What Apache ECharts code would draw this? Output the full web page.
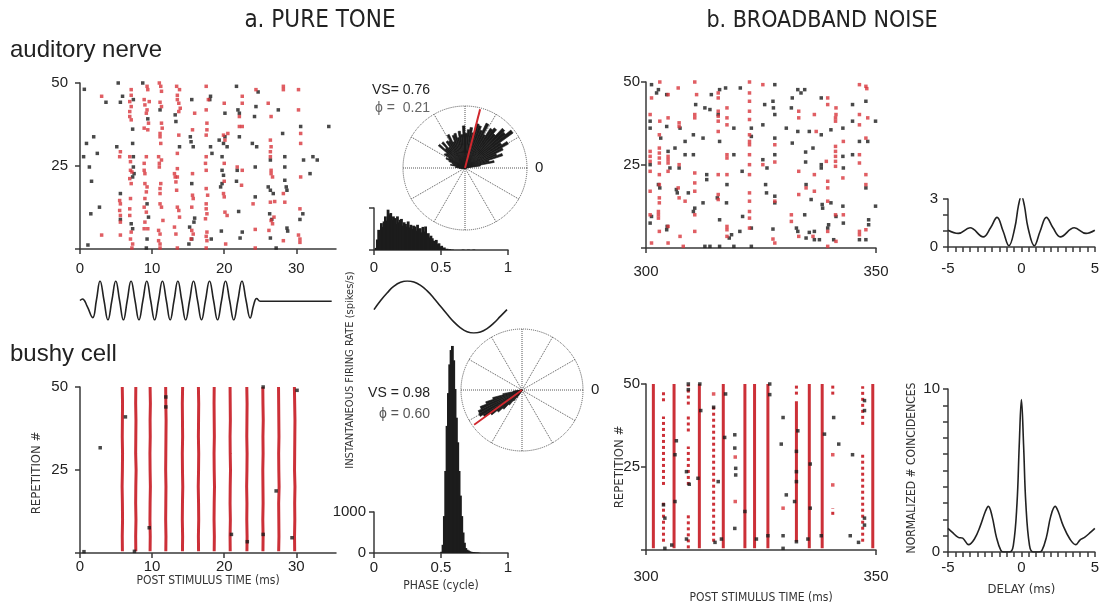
<!DOCTYPE html>
<html><head><meta charset="utf-8">
<script src="https://cdn.jsdelivr.net/npm/echarts@6/dist/echarts.min.js"></script>
<style>html,body{margin:0;padding:0;background:#fff}#c{width:1102px;height:610px}</style>
</head><body><div id="c"></div>
<script>
// ---------------- DATA ----------------
// a. pure tone, auditory nerve raster: [time ms, repetition]
const anToneBlack = [[0.6,48.1],[5.3,50],[8.7,50],[5.9,46],[3.6,44.2],[5.6,44.2],[7.4,45],[21.7,49],[24.7,47.3],[15.5,45],[18.1,46],[18.0,45],[27.5,41.9],[24.4,42.9],[21.9,41.9],[22.1,40.9],[11.1,41.9],[20.1,40.9],[13.2,40.4],[13.3,38.4],[9.4,39.2],[24.2,39.9],[30.6,36.9],[34.5,36.9],[7.3,36.1],[28.1,34.8],[20.1,33.8],[22.1,33.8],[1.9,33.8],[0.9,31.8],[5.1,30.8],[7.3,31.8],[15.3,33.8],[15.4,32.3],[15.7,30.8],[13.8,30.8],[18.1,30.8],[19.3,32.8],[19.9,31.8],[20.4,30.8],[23.9,31.8],[24.5,30.8],[18.3,28.8],[2.4,28.8],[0.5,27.8],[7.4,27.8],[19.7,27.8],[28.4,27.8],[31.0,26.8],[32.3,27.8],[32.9,26.8],[1.3,24.7],[7.4,24.7],[1.6,20.4],[7.5,22.7],[7.3,21.7],[21.8,23.7],[19.7,23.7],[19.9,22.2],[24.3,24.7],[31.9,22.7],[26.4,26.8],[28.4,24.7],[15.5,19.7],[19.7,19.7],[19.5,18.7],[21.7,20.4],[26.1,18.7],[26.4,17.7],[26.8,16.7],[28.4,20.7],[28.6,18.7],[28.7,17.7],[5.6,16.7],[24.3,15.7],[9.3,13.6],[2.7,12.6],[1.5,10.6],[5.6,8.9],[9.5,9.6],[15.9,9.3],[15.8,8.1],[22.0,11.3],[26.3,10.6],[26.6,8.9],[30.5,8.9],[30.9,10.6],[7.1,7.6],[7.3,6.1],[15.2,6.6],[19.6,5.4],[22.5,5.1],[22.2,3.3],[26.4,3.3],[28.7,6.3],[28.8,5.4],[15.5,3.0],[15.1,1.5],[1.1,1.2],[9.3,3.0],[9.2,0.3],[27.2,0.3],[18.2,3.0]];
const anToneRed = [[3.0,46],[7.1,48],[7.1,46.3],[9.3,49],[9.4,48],[11.0,50],[11.2,49],[11.3,47.5],[13.4,49],[13.8,48],[17.5,49],[24.4,48],[28.2,49],[28.2,48],[30.3,48],[20.0,43.9],[22.5,46],[22.5,43.9],[26.1,43.9],[6.9,44.4],[7.1,42.9],[6.9,41.4],[6.9,39.9],[7.1,38.9],[8.9,45],[9.0,43.4],[9.3,41.9],[9.6,44.4],[9.2,40.9],[9.5,37.9],[8.9,36.4],[9.4,35.9],[11.1,44.2],[11.3,42.9],[11.3,37.9],[11.4,36.4],[11.1,34.8],[11.1,33.8],[13.5,46.3],[13.5,45],[13.7,43.9],[13.9,42.4],[13.7,41.4],[15.9,40.9],[17.5,41.9],[17.6,37.9],[17.6,35.9],[17.5,34.3],[17.8,45],[19.9,34.3],[20.1,32.8],[20.5,34.8],[22.1,36.9],[22.1,39.9],[22.5,36.9],[26.5,39.9],[30.3,41.9],[30.6,34.8],[30.6,31.8],[11.2,31.8],[13.5,28.8],[13.7,34.3],[15.6,35.9],[26.4,32.8],[26.5,30.8],[26.4,29.3],[26.4,27.8],[5.6,29.3],[5.5,27.8],[6.9,27.8],[7.0,26.3],[8.9,25.8],[9.2,27.8],[7.0,23.7],[7.2,23.2],[8.9,23.7],[9.0,22.7],[10.9,27.8],[11.0,25.8],[11.3,26.8],[11.0,24.7],[13.1,22.7],[13.2,21.7],[13.5,24.2],[15.6,22.7],[17.5,27.8],[17.4,25.8],[17.5,23.7],[20.0,25.8],[21.8,24.7],[22.5,23.7],[26.5,23.7],[26.5,22.7],[26.7,21.7],[30.6,21.7],[13.5,21.7],[13.3,20.2],[6.9,21.2],[7.1,19.7],[9.0,19.7],[9.3,18.7],[9.2,17.2],[11.2,19.7],[11.1,18.2],[11.1,16.7],[13.4,17.7],[17.5,18.2],[17.7,16.2],[19.9,16.7],[20.0,15.7],[22.4,19.2],[20.0,20.4],[15.6,16.2],[5.5,14.6],[5.6,13.6],[7.0,15.2],[9.0,15.2],[8.9,12.6],[9.2,11.1],[11.1,13.6],[11.3,12.6],[11.5,8.6],[13.5,12.6],[13.7,11.6],[13.8,9.6],[15.7,15.2],[15.5,12.6],[17.5,13.6],[17.5,12.1],[17.6,10.6],[17.4,9.1],[20.1,11.1],[20.4,10.1],[24.0,13.6],[26.4,14.1],[27.0,14.3],[28.4,14.1],[26.5,8.6],[26.9,9.6],[26.7,7.6],[5.5,11.6],[5.6,10.1],[5.6,8.1],[6.9,12.1],[6.9,10.1],[9.0,8.1],[8.9,6.1],[9.4,6.1],[10.9,5.6],[11.1,4.5],[10.9,2.5],[11.1,1.5],[13.1,6.6],[13.3,4.5],[15.5,5.6],[15.7,4.5],[15.4,3.0],[17.6,5.1],[17.5,3.8],[17.6,2.5],[20.2,1.5],[24.3,5.9],[26.2,5.6],[28.2,2.5],[30.3,4.2],[30.5,3.0],[30.5,2.0],[3.0,4.2],[5.6,4.2],[7.1,5.1],[7.0,3.0],[7.3,1.5],[7.2,0.3],[11.1,0.3],[13.5,0.3],[17.5,0.3],[24.3,0.3],[28.2,16.7],[30.5,12.1]];

// tone burst stimulus waveform: [time ms, amplitude]
const toneWave = [[0,0],[0.35,0.08],[1.0,-0.3],[1.76,-0.88],[2.27,0],[2.78,1],[3.33,0],[3.87,-1],[4.42,0],[4.96,1],[5.49,0],[6.02,-1],[6.55,0],[7.08,1],[7.63,0],[8.17,-1],[8.72,0],[9.26,1],[9.8,0],[10.35,-1],[10.89,0],[11.43,1],[11.97,0],[12.5,-1],[13.04,0],[13.57,1],[14.11,0],[14.65,-1],[15.2,0],[15.74,1],[16.3,0],[16.85,-1],[17.4,0],[17.96,1],[18.52,0],[19.07,-1],[19.63,0],[20.18,1],[20.75,0],[21.32,-1],[21.89,0],[22.46,1],[23.03,0],[23.6,-0.9],[24.1,-0.2],[24.5,0.1],[25.0,-0.04],[34.9,-0.04]];

// a. pure tone, bushy cell raster: phase-locked columns (time at each repetition level)
const repLevels = [0.5,5,10,15,20,25,30,35,40,45,50];
const toneBushyCols = [
 [5.88,5.86,5.9,5.88,5.84,5.88,5.9,5.86,5.88,5.9,5.86],
 [7.74,7.72,7.76,7.72,7.74,7.78,7.72,7.74,7.76,7.72,7.74],
 [9.72,9.74,9.7,9.72,9.76,9.72,9.7,9.74,9.72,9.76,9.72],
 [11.9,11.92,11.88,11.9,11.92,11.88,11.9,11.92,11.94,11.9,11.88],
 [14.21,14.23,14.19,14.21,14.25,14.21,14.19,14.23,14.21,14.19,14.23],
 [16.44,16.42,16.46,16.44,16.4,16.44,16.46,16.42,16.44,16.46,16.42],
 [18.61,18.63,18.59,18.61,18.65,18.61,18.59,18.63,18.61,18.59,18.61],
 [20.83,20.81,20.85,20.81,20.83,20.87,20.83,20.81,20.85,20.83,20.81],
 [23.15,23.17,23.13,23.15,23.11,23.15,23.17,23.13,23.15,23.17,23.13],
 [25.37,25.39,25.35,25.39,25.37,25.35,25.39,25.37,25.41,25.37,25.35],
 [27.55,27.59,27.57,27.55,27.61,27.57,27.55,27.59,27.57,27.55,27.53],
 [29.77,29.75,29.79,29.77,29.81,29.75,29.77,29.79,29.81,29.77,29.73]];
const toneBushyBlack = [[0.55,0.4],[2.8,31.7],[6.3,41],[7.55,0.5],[9.6,7.6],[11.9,47],[11.9,44],[21.0,5.6],[23.2,3.4],[25.4,5.6],[25.4,50],[27.2,18.7],[29.4,4.6],[30.1,49]];

// phase histograms (bin width 0.01 cycle, starting at 0)
const PHASE_BIN = 0.01;
const anPhaseHist = [0,5,25,48,40,64,55,68,80,70,96,85,88,72,80,76,62,80,66,72,74,58,66,62,56,68,54,60,50,58,56,46,60,50,52,42,55,44,56,38,40,30,34,28,22,20,24,14,16,8,10,4,6,2,3,1,2,0,1,0,0,0,0,0,0,0,1,0,0,0,1,0,0,0,1,0];
const bushyPhaseStart = 0.50;
const bushyPhaseHist = [30,200,900,2000,3100,3900,4600,4950,5050,4700,4000,3300,2700,2000,1400,900,500,250,120,80,60,40,30,25,20,15,10,10,5];
// one cycle of the stimulus: [phase, amplitude]
const stimCycle = [[0,-0.1],[0.05,0.25],[0.1,0.55],[0.15,0.8],[0.2,0.95],[0.25,1],[0.3,0.96],[0.35,0.83],[0.4,0.62],[0.45,0.34],[0.5,0.03],[0.55,-0.28],[0.6,-0.57],[0.65,-0.8],[0.7,-0.95],[0.75,-1],[0.8,-0.96],[0.85,-0.83],[0.9,-0.62],[0.95,-0.36],[1,-0.1]];
const anVS = {vs:'0.76', phi:0.21}, bushyVS = {vs:'0.98', phi:0.60};

// b. broadband noise, auditory nerve raster
const anNoiseRed = [[303.0,50],[310.6,50],[322.5,50],[325.4,49.2],[346.4,49.2],[347.8,48.7],[348.0,48.0],[301.2,45.2],[304.8,46.2],[307.0,48.2],[311.0,46.2],[315.7,46.7],[315.7,45.2],[322.5,46.7],[322.5,44.2],[339.5,45.2],[339.5,43.2],[317.6,42.2],[315.7,41.2],[315.7,39.7],[315.7,38.2],[317.6,39.2],[317.6,37.1],[322.5,41.2],[322.5,38.7],[333.2,41.2],[333.2,39.2],[336.6,40.2],[341.3,42.2],[341.3,40.2],[341.2,39.2],[346.4,40.2],[348.2,39.2],[346.4,37.1],[300.9,40.2],[303.0,38.2],[304.8,39.2],[307.2,37.7],[307.2,36.6],[310.6,40.2],[310.6,39.2],[302.9,34.1],[315.7,35.1],[322.5,34.1],[328.0,31.1],[322.5,32.1],[322.5,31.1],[337.0,35.1],[341.2,38.2],[347.8,33.1],[342.9,32.1],[341.2,30.6],[341.2,29.1],[341.2,27.6],[341.2,26.1],[341.2,24.6],[346.4,28.1],[346.4,25.6],[300.9,29.1],[300.9,27.6],[300.9,26.1],[302.9,30.1],[302.9,28.6],[302.9,27.1],[302.9,25.6],[304.8,27.6],[304.8,26.6],[304.8,25.6],[317.6,28.1],[317.6,27.1],[322.5,28.1],[322.5,25.1],[325.4,25.1],[328.0,25.9],[333.2,23.1],[300.9,23.1],[302.9,22.1],[304.8,23.1],[307.2,25.1],[310.6,22.6],[310.6,19.6],[315.7,22.1],[317.6,22.1],[322.5,22.1],[339.2,26.1],[339.5,20.1],[336.6,22.1],[342.8,21.1],[347.8,22.1],[300.9,17.1],[302.9,19.1],[302.9,15.1],[302.9,13.6],[307.0,18.1],[307.2,15.1],[308.5,14.1],[310.6,17.1],[315.7,16.1],[315.7,14.6],[322.5,16.6],[322.5,14.1],[328.0,14.1],[333.2,16.1],[334.8,18.1],[336.6,17.1],[339.5,18.1],[339.5,14.1],[347.8,19.1],[300.9,10.0],[302.7,10.0],[302.7,9.0],[302.7,11.0],[302.9,5.0],[304.8,6.5],[310.6,10.0],[310.6,5.0],[317.6,6.5],[317.6,5.5],[322.5,11.0],[322.5,9.0],[322.5,6.0],[328.0,1.5],[331.6,10.0],[331.6,8.0],[333.2,3.5],[339.5,5.0],[341.2,10.0],[342.9,10.0],[346.4,5.0],[346.4,4.0],[347.8,5.5],[301.2,1.5],[304.8,1.5],[307.4,3.5],[308.1,0.5],[317.6,3.5],[327.6,2.7],[336.3,3.5],[339.5,0.5],[341.3,2.0]];
const anNoiseBlack = [[301.2,49.2],[302.7,47.7],[302.3,46.7],[304.5,46.2],[314.2,46.2],[316.0,47.7],[317.3,48.2],[320.5,48.2],[328.0,49.2],[333.0,47.7],[333.7,46.7],[334.5,47.7],[331.8,45.2],[338.1,45.2],[325.8,43.2],[327.6,44.2],[327.7,42.2],[328.0,40.2],[331.6,42.2],[310.8,43.2],[312.8,42.2],[313.9,41.7],[315.7,40.2],[300.9,38.2],[300.9,36.1],[304.5,36.6],[307.4,36.1],[310.3,34.1],[312.4,33.1],[316.0,32.1],[319.1,36.1],[322.9,36.1],[325.4,37.1],[330.5,36.1],[333.0,35.1],[335.5,35.1],[338.1,34.1],[340.2,35.6],[342.8,36.1],[344.9,38.2],[344.9,43.2],[347.8,44.2],[349.9,38.2],[303.2,33.1],[306.3,30.1],[308.5,32.1],[308.5,28.1],[310.3,28.1],[304.8,29.1],[305.2,24.1],[307.2,24.1],[313.2,22.1],[313.2,20.6],[317.6,19.1],[319.1,28.1],[320.9,23.1],[322.9,33.6],[325.4,26.6],[326.3,24.1],[328.0,33.1],[328.0,28.1],[331.8,31.6],[334.7,28.9],[336.3,30.1],[334.7,25.9],[338.1,25.1],[338.1,24.1],[342.8,27.6],[342.9,24.1],[344.9,28.1],[346.4,32.1],[348.2,32.1],[300.9,25.1],[302.7,19.1],[303.0,18.1],[306.6,17.6],[306.8,16.6],[309.2,16.6],[312.4,13.6],[315.5,15.1],[317.5,13.6],[326.0,19.1],[326.2,16.6],[328.0,15.6],[328.0,13.6],[334.8,19.1],[335.9,14.6],[338.3,13.1],[338.4,12.0],[340.2,13.6],[342.8,12.6],[347.8,18.1],[349.9,12.6],[316.0,8.5],[318.6,4.0],[320.4,5.0],[321.0,9.5],[322.9,6.0],[327.6,5.7],[332.7,6.0],[333.0,5.0],[334.8,3.0],[335.5,4.7],[336.6,2.5],[337.7,2.5],[339.5,6.0],[339.7,7.0],[340.8,2.5],[341.3,9.5],[342.9,7.5],[346.4,2.5],[347.8,2.5],[348.4,7.0],[348.4,8.5],[301.2,9.5],[300.9,7.5],[304.6,6.5],[304.5,5.5],[310.3,11.0],[310.6,12.0],[312.8,0.5],[316.0,0.5],[318.1,3.0],[319.1,0.5],[322.9,0.5],[313.9,0.5],[334.5,10.0],[336.6,5.0]];

// b. broadband noise, bushy cell raster: red spike columns [time ms, rep from, rep to]
const noiseBushySolid = [[301.6,0.5,50],[306.1,0.5,50],[311.6,0.5,50],[316.8,0.5,50],[321.5,0.5,50],[323.6,0.5,50],[326.5,0.5,50],[332.7,2.5,44.8],[335.5,0.5,50],[338.3,0.5,50],[349.3,0.5,50]];
const noiseBushyDotted = [[303.8,44.8,48.3],[303.8,19.6,40.2],[303.8,2.5,14.6],[309.2,43.8,49.8],[309.2,35.7,40.2],[309.2,19.6,31.2],[309.2,0.5,10.6],[314.7,2.5,43.3],[332.7,46.8,50],[340.6,46.8,50],[340.6,10.6,12.6],[347.1,37.7,49.3],[347.1,2.5,28.7]];
const noiseBushyRedDots = [[319.4,14.6],[329.8,12.6],[340.6,28.7],[340.6,19.6],[319.4,28.0],[314.7,47.0]];
const noiseBushyBlack = [[311.7,50],[309.2,48.3],[309.2,50],[317.3,47.0],[326.9,50],[326.9,46.8],[311.9,42.0],[314.7,43.0],[329.8,39.9],[340.8,39.9],[347.5,45.0],[347.5,42.0],[306.6,32.9],[306.3,28.7],[308.8,23.6],[309.4,19.8],[311.3,21.6],[315.7,20.6],[317.1,33.9],[319.3,34.7],[319.3,30.7],[319.5,24.6],[319.5,22.6],[329.4,31.9],[333.0,35.9],[338.8,34.9],[341.9,31.9],[344.9,28.7],[332.7,29.7],[332.7,23.6],[335.7,25.9],[335.7,12.6],[332.3,14.6],[330.5,16.6],[332.7,20.6],[321.5,11.6],[319.3,6.5],[306.3,14.6],[303.8,13.6],[304.1,9.6],[304.1,0.5],[305.6,1.5],[308.8,3.3],[315.0,2.3],[316.4,3.3],[324.0,3.3],[326.5,4.3],[329.8,4.3],[329.8,0.5],[332.7,2.5],[335.2,3.3],[338.1,4.3],[344.4,4.3],[346.2,2.3],[347.5,9.6],[347.5,7.5]];

// cross-correlograms: [delay ms, normalized coincidences]
const anCorr = [[-5,1.05],[-4.3,0.85],[-3.5,1.2],[-2.6,0.63],[-2.1,1.2],[-1.66,1.85],[-1.25,1.0],[-0.85,0.08],[-0.45,1.2],[-0.2,2.6],[0,3.2],[0.2,2.6],[0.45,1.2],[0.88,0.08],[1.28,1.0],[1.7,1.85],[2.15,1.2],[2.65,0.63],[3.6,1.2],[4.4,0.85],[5,1.05]];
const bushyCorr = [[-5,1.45],[-4.7,1.2],[-4.3,0.9],[-4.0,0.85],[-3.6,0.45],[-3.2,0.8],[-2.8,1.6],[-2.45,2.5],[-2.25,2.8],[-2.0,2.2],[-1.7,0.9],[-1.4,0.1],[-1.2,0],[-0.8,0],[-0.55,0.4],[-0.3,3.0],[-0.15,6.5],[0,9.35],[0.15,6.5],[0.3,3.0],[0.55,0.4],[0.8,0],[1.2,0],[1.4,0.1],[1.7,0.9],[2.0,2.2],[2.3,2.8],[2.5,2.5],[2.85,1.6],[3.3,0.8],[3.7,0.45],[4.0,0.75],[4.3,0.9],[4.7,1.2],[5,1.45]];

// tick values / labels
const toneTimeTicks = [0,10,20,30];
const repTicks = [0,25,50], repLabels = [25,50];
const phaseTicks = [0,0.5,1];
const noiseTimeTicks = [300,350];
const delayTicks = [-5,-4.5,-4,-3.5,-3,-2.5,-2,-1.5,-1,-0.5,0,0.5,1,1.5,2,2.5,3,3.5,4,4.5,5];
const delayLabels = [-5,0,5];
const corrTopTicks = [0,1,2,3], corrTopLabels = [0,3];
const corrBotTicks = [0,1,2,3,4,5,6,7,8,9,10], corrBotLabels = [0,10];
const rateTicks = [0,1000];

// ---------------- CHART ----------------
const RED = '#d8363c', COL = '#cc3038', BLK = '#1c1c1c', AX = '#3a3a3a';
const NUM = '"Liberation Sans", Arial, sans-serif';
const NARROW = '"Liberation Sans Narrow", "DejaVu Sans Condensed", sans-serif';

const grids = [
  {left:80, top:83, width:256, height:166},     // 0 AN tone raster
  {left:80, top:281, width:256, height:39},     // 1 waveform
  {left:80, top:387, width:256, height:166},    // 2 bushy tone raster
  {left:374, top:208, width:134, height:42},    // 3 AN phase hist
  {left:374, top:281, width:133, height:52},    // 4 stim cycle
  {left:374, top:512, width:134, height:41},    // 5 bushy phase hist
  {left:646, top:82, width:230, height:166},    // 6 AN noise raster
  {left:646, top:384, width:230, height:166},   // 7 bushy noise raster
  {left:948, top:199, width:148.5, height:48},  // 8 AN correlogram
  {left:948, top:389, width:148.5, height:163}  // 9 bushy correlogram
];

function axis(g, min, max, ticks, labels, margin, extra) {
  const a = {
    gridIndex:g, type:'value', min, max, splitLine:{show:false},
    axisLine:{show:true, onZero:false, lineStyle:{color:AX, width:1.5}},
    axisTick:{show:ticks.length>0, length:5, customValues:ticks, lineStyle:{color:AX, width:1.5}},
    axisLabel:{show:labels.length>0, customValues:labels, margin:margin, fontSize:15, color:'#222', fontFamily:NUM, formatter:v => String(v)}
  };
  return Object.assign(a, extra||{});
}
const hidden = (g,min,max) => ({gridIndex:g, type:'value', min, max, show:false});
const nameStyle = {fontSize:12, color:'#333', fontFamily:NARROW};

const xAxis = [
  axis(0, 0, 35.5, toneTimeTicks, toneTimeTicks, 12),
  hidden(1, 0, 35.5),
  axis(2, 0, 35.5, toneTimeTicks, toneTimeTicks, 6, {name:'POST STIMULUS TIME (ms)', nameLocation:'middle', nameGap:18, nameTextStyle:nameStyle}),
  axis(3, 0, 1, phaseTicks, phaseTicks, 10),
  hidden(4, 0, 1),
  axis(5, 0, 1, phaseTicks, phaseTicks, 7, {name:'PHASE (cycle)', nameLocation:'middle', nameGap:27, nameTextStyle:nameStyle}),
  axis(6, 300, 350, noiseTimeTicks, noiseTimeTicks, 16),
  axis(7, 300, 350, noiseTimeTicks, noiseTimeTicks, 19, {name:'POST STIMULUS TIME (ms)', nameLocation:'middle', nameGap:42, nameTextStyle:nameStyle}),
  axis(8, -5, 5, delayTicks, delayLabels, 14),
  axis(9, -5, 5, delayTicks, delayLabels, 8, {name:'DELAY (ms)', nameLocation:'middle', nameGap:31, nameTextStyle:Object.assign({}, nameStyle, {fontSize:13})})
];
const yAxis = [
  axis(0, 0, 50, repTicks, repLabels, 12),
  hidden(1, -1, 1),
  axis(2, 0, 50, repTicks, repLabels, 12),
  axis(3, 0, 100, [0,100], [], 8),
  hidden(4, -1, 1),
  axis(5, 0, 1000, rateTicks, rateTicks, 8),
  axis(6, 0, 50, repTicks, repLabels, 6),
  axis(7, 0, 50, repTicks, repLabels, 6),
  axis(8, 0, 3, corrTopTicks, corrTopLabels, 10),
  axis(9, 0, 10, corrBotTicks, corrBotLabels, 8)
];

const polar = [{center:[465,168], radius:62}, {center:[522,390], radius:61}];
function angAx(i) {
  return {polarIndex:i, type:'value', min:0, max:1, interval:1/12, startAngle:0, clockwise:false,
    axisLine:{lineStyle:{type:'dotted', color:'#555', width:1}},
    splitLine:{show:true, lineStyle:{type:'dotted', color:'#555', width:1}},
    axisTick:{show:false},
    axisLabel:{margin:8, fontSize:15, color:'#222', fontFamily:NUM, formatter:v => (Math.abs(v) < 1e-9 ? '0' : '')}};
}
const angleAxis = [angAx(0), angAx(1)];
const radiusAxis = [
  {polarIndex:0, type:'value', min:0, max:100, axisLine:{show:false}, axisTick:{show:false}, axisLabel:{show:false}, splitLine:{show:false}},
  {polarIndex:1, type:'value', min:0, max:6230, axisLine:{show:false}, axisTick:{show:false}, axisLabel:{show:false}, splitLine:{show:false}}
];

const series = [];
const dots = (xi, data, color) => ({type:'scatter', xAxisIndex:xi, yAxisIndex:xi, data, symbol:'rect', symbolSize:3.5, itemStyle:{color}, silent:true});

// a. AN tone raster
series.push(dots(0, anToneBlack, BLK));
series.push(dots(0, anToneRed, RED));
// waveform
series.push({type:'line', xAxisIndex:1, yAxisIndex:1, data:toneWave, smooth:0.45, showSymbol:false, lineStyle:{color:'#222', width:1.6}});
// bushy tone raster columns
toneBushyCols.forEach(col => series.push({type:'line', xAxisIndex:2, yAxisIndex:2, data:col.map((t,i)=>[t, repLevels[i]]), showSymbol:false, lineStyle:{color:COL, width:3}, z:2}));
series.push(dots(2, toneBushyBlack, BLK));
// phase histograms
const anHistData = anPhaseHist.map((v,i)=>[(i+0.5)*PHASE_BIN, v]);
const bushyHistData = bushyPhaseHist.map((v,i)=>[bushyPhaseStart + (i+0.5)*PHASE_BIN, v]);
series.push({type:'bar', xAxisIndex:3, yAxisIndex:3, data:anHistData, barWidth:2.8, itemStyle:{color:BLK}, clip:false});
series.push({type:'line', xAxisIndex:4, yAxisIndex:4, data:stimCycle, smooth:true, showSymbol:false, lineStyle:{color:'#222', width:1.6}});
series.push({type:'bar', xAxisIndex:5, yAxisIndex:5, data:bushyHistData, barWidth:2.8, itemStyle:{color:BLK}, clip:false});
// polar roses
function rose(pi, histData) {
  return {type:'custom', coordinateSystem:'polar', polarIndex:pi, data:histData.map(d=>[d[1], d[0]]),
    renderItem:(params, api) => {
      const r = api.value(0), a = api.value(1);
      if (!r) return null;
      const c = api.coord([0, a]), p1 = api.coord([r, a - PHASE_BIN/2]), p2 = api.coord([r, a + PHASE_BIN/2]);
      return {type:'polygon', shape:{points:[c, p1, p2]}, style:{fill:BLK, stroke:BLK, lineWidth:0.6}};
    }, z:3};
}
series.push(rose(0, anHistData));
series.push(rose(1, bushyHistData));
series.push({type:'line', coordinateSystem:'polar', polarIndex:0, data:[[0, anVS.phi],[98, anVS.phi]], showSymbol:false, lineStyle:{color:'#d0282e', width:2}, z:4});
series.push({type:'line', coordinateSystem:'polar', polarIndex:1, data:[[0, bushyVS.phi],[6230*0.97, bushyVS.phi]], showSymbol:false, lineStyle:{color:'#d0282e', width:1.8}, z:4});
// b. AN noise raster
series.push(dots(6, anNoiseBlack, BLK));
series.push(dots(6, anNoiseRed, RED));
// b. bushy noise raster
noiseBushySolid.forEach(c => series.push({type:'line', xAxisIndex:7, yAxisIndex:7, data:[[c[0], c[1]],[c[0], c[2]]], showSymbol:false, lineStyle:{color:COL, width:3}, z:2}));
noiseBushyDotted.forEach(c => series.push({type:'line', xAxisIndex:7, yAxisIndex:7, data:[[c[0], c[1]],[c[0], c[2]]], showSymbol:false, lineStyle:{color:COL, width:3, type:[3,3]}, z:2}));
series.push(dots(7, noiseBushyRedDots, RED));
series.push(dots(7, noiseBushyBlack, BLK));
// correlograms
series.push({type:'line', xAxisIndex:8, yAxisIndex:8, data:anCorr, smooth:0.4, showSymbol:false, lineStyle:{color:'#222', width:1.6}});
series.push({type:'line', xAxisIndex:9, yAxisIndex:9, data:bushyCorr, smooth:0.4, showSymbol:false, lineStyle:{color:'#222', width:1.6}});

const txt = (x, y, text, font, extra) => Object.assign({type:'text', x, y, style:Object.assign({text, font, fill:'#222', align:'left', verticalAlign:'middle'}, (extra||{}).style||{})}, (extra||{}).el||{});
const graphic = [
  txt(320, 21, 'a. PURE TONE', '24px ' + NARROW, {style:{align:'center'}}),
  txt(822, 21, 'b. BROADBAND NOISE', '23px ' + NARROW, {style:{align:'center'}}),
  txt(10, 50, 'auditory nerve', '24px "Liberation Sans", Arial, sans-serif'),
  txt(10, 354, 'bushy cell', '24px "Liberation Sans", Arial, sans-serif'),
  txt(430, 90, 'VS= ' + anVS.vs, '14px ' + NUM, {style:{align:'right'}}),
  txt(430, 108, '\u03d5 =  ' + anVS.phi.toFixed(2), '14px ' + NUM, {style:{align:'right', fill:'#666'}}),
  txt(430, 393, 'VS = ' + bushyVS.vs, '14px ' + NUM, {style:{align:'right'}}),
  txt(430, 414, '\u03d5 = ' + bushyVS.phi.toFixed(2), '14px ' + NUM, {style:{align:'right', fill:'#555'}}),
  txt(37, 473, 'REPETITION #', '13px ' + NARROW, {style:{align:'center', fill:'#333'}, el:{rotation:Math.PI/2}}),
  txt(620, 467, 'REPETITION #', '13px ' + NARROW, {style:{align:'center', fill:'#333'}, el:{rotation:Math.PI/2}}),
  txt(350, 370, 'INSTANTANEOUS FIRING RATE (spikes/s)', '11px ' + NARROW, {style:{align:'center', fill:'#333'}, el:{rotation:Math.PI/2}}),
  txt(912, 468, 'NORMALIZED # COINCIDENCES', '12px ' + NARROW, {style:{align:'center', fill:'#333'}, el:{rotation:Math.PI/2}})
];

const chart = echarts.init(document.getElementById('c'), null, {renderer:'canvas'});
chart.setOption({animation:false, backgroundColor:'#fff', grid:grids, xAxis, yAxis, polar, angleAxis, radiusAxis, series, graphic});
</script></body></html>
